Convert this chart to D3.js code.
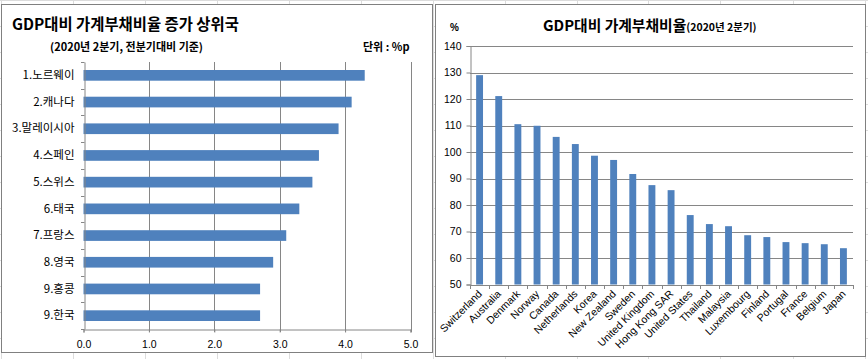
<!DOCTYPE html>
<html><head><meta charset="utf-8">
<script src="https://cdn.jsdelivr.net/npm/d3@7"></script>
<style>
body{margin:0;background:#fff;}
text{font-family:"Liberation Sans","Noto Sans CJK KR",sans-serif;}
.kr{font-family:"Noto Sans CJK KR","Liberation Sans",sans-serif;}
</style></head>
<body>
<svg id="c" width="868" height="359"></svg>
<script>
// Left chart data
const leftCategories = ["1.노르웨이","2.캐나다","3.말레이시아","4.스페인","5.스위스","6.태국","7.프랑스","8.영국","9.홍콩","9.한국"];
const leftValues = [4.3,4.1,3.9,3.6,3.5,3.3,3.1,2.9,2.7,2.7];
const leftTicks = [0,1,2,3,4,5];
// Right chart data
const rightCategories = ["Switzerland","Australia","Denmark","Norway","Canada","Netherlands","Korea","New Zealand","Sweden","United Kingdom","Hong Kong SAR","United States","Thailand","Malaysia","Luxembourg","Finland","Portugal","France","Belgium","Japan"];
const rightValues = [129,121.1,110.5,109.9,105.7,103,98.6,97,91.7,87.5,85.6,76.2,72.8,72,68.6,67.9,66,65.6,65.2,63.7];
const rightTicks = [50,60,70,80,90,100,110,120,130,140];

const barColor = "#4F81BD", gridColor = "#868686", sheetGrid = "#dcdcdc";
const svg = d3.select("#c");

// spreadsheet background grid
const colX = [1,73,145,217,289,361,433,505,577,648,720,793,865];
svg.selectAll(".sg").data(colX).join("line")
  .attr("x1",d=>d+0.5).attr("x2",d=>d+0.5).attr("y1",0).attr("y2",359)
  .attr("stroke",sheetGrid).attr("stroke-width",1);
const rowY = d3.range(0,359,26);
svg.selectAll(".sr").data(rowY).join("line")
  .attr("x1",0).attr("x2",868).attr("y1",d=>d+0.5).attr("y2",d=>d+0.5)
  .attr("stroke",sheetGrid).attr("stroke-width",1);

// panels
svg.append("rect").attr("x",1.5).attr("y",4.5).attr("width",431).attr("height",348)
  .attr("fill","#fff").attr("stroke","#808080");
svg.append("rect").attr("x",435.5).attr("y",4.5).attr("width",430).attr("height",352)
  .attr("fill","#fff").attr("stroke","#808080");

// ---------- LEFT CHART ----------
const L = {x0:83.5, x1:410.5, y0:62, y1:329};
const lx = d3.scaleLinear().domain([0,5]).range([L.x0,L.x1]);
const ly = d3.scaleBand().domain(leftCategories).range([L.y0,L.y1]).paddingInner(0.6).paddingOuter(0.3);
const lg = svg.append("g");
lg.selectAll(".vg").data(leftTicks.filter(d=>d>0)).join("line")
  .attr("x1",d=>Math.round(lx(d))+0.5).attr("x2",d=>Math.round(lx(d))+0.5)
  .attr("y1",L.y0).attr("y2",L.y1+3).attr("stroke",gridColor);
lg.selectAll(".bar").data(leftValues).join("rect")
  .attr("x",lx(0)).attr("y",(d,i)=>ly(leftCategories[i]))
  .attr("width",d=>lx(d)-lx(0)).attr("height",ly.bandwidth())
  .attr("fill",barColor);
const lyAxisScale = d3.scaleBand().domain(leftCategories).range([L.y0,L.y1]);
const lyAxis = lg.append("g").attr("transform",`translate(${Math.round(L.x0)+0.5},0)`)
  .call(d3.axisLeft(lyAxisScale).tickSize(0).tickPadding(10));
lyAxis.select(".domain").attr("stroke",gridColor);
lyAxis.selectAll("text").attr("class","kr").attr("font-size",11.5).attr("fill","#000");
const bounds = d3.range(leftCategories.length+1).map(i=>L.y0+i*(L.y1-L.y0)/leftCategories.length);
lg.selectAll(".bt").data(bounds).join("line")
  .attr("x1",Math.round(L.x0)-3).attr("x2",Math.round(L.x0)+0.5)
  .attr("y1",d=>Math.round(d)+0.5).attr("y2",d=>Math.round(d)+0.5).attr("stroke",gridColor);
const lxAxis = lg.append("g").attr("transform",`translate(0,${L.y1+0.5})`)
  .call(d3.axisBottom(lx).tickValues(leftTicks).tickFormat(d3.format(".1f")).tickSize(3).tickPadding(8));
lxAxis.select(".domain").attr("stroke",gridColor);
lxAxis.selectAll("line").attr("stroke",gridColor);
lxAxis.selectAll("text").attr("font-size",10.5).attr("fill","#000");
svg.append("text").attr("class","kr").attr("x",12).attr("y",30).attr("font-size",15.4).attr("font-weight","bold")
  .text("GDP대비 가계부채비율 증가 상위국");
svg.append("text").attr("class","kr").attr("x",50).attr("y",51).attr("font-size",11).attr("font-weight","bold")
  .text("(2020년 2분기, 전분기대비 기준)");
svg.append("text").attr("class","kr").attr("x",363).attr("y",51).attr("font-size",11).attr("font-weight","bold")
  .text("단위 : %p");

// ---------- RIGHT CHART ----------
const R = {x0:470, x1:853, y0:46, y1:284.5};
const ry = d3.scaleLinear().domain([50,140]).range([R.y1,R.y0]);
const rx = d3.scaleBand().domain(rightCategories).range([R.x0,R.x1]).paddingInner(0.64).paddingOuter(0.32);
const rg = svg.append("g");
rg.selectAll(".hg").data(rightTicks).join("line")
  .attr("x1",R.x0).attr("x2",R.x1)
  .attr("y1",d=>Math.round(ry(d))+0.5).attr("y2",d=>Math.round(ry(d))+0.5)
  .attr("stroke",gridColor);
rg.selectAll(".bar").data(rightValues).join("rect")
  .attr("x",(d,i)=>rx(rightCategories[i])).attr("y",d=>ry(d))
  .attr("width",rx.bandwidth()).attr("height",d=>ry(50)-ry(d))
  .attr("fill",barColor);
const ryAxis = rg.append("g").attr("transform",`translate(${R.x0+0.5},0)`)
  .call(d3.axisLeft(ry).tickValues(rightTicks).tickSize(4).tickPadding(5));
ryAxis.select(".domain").attr("stroke",gridColor);
ryAxis.selectAll("line").attr("stroke",gridColor);
ryAxis.selectAll("text").attr("font-size",10.5).attr("fill","#000");
const rxAxisScale = d3.scaleBand().domain(rightCategories).range([R.x0,R.x1]);
rg.append("line").attr("x1",R.x0).attr("x2",R.x1).attr("y1",Math.round(R.y1)+0.5).attr("y2",Math.round(R.y1)+0.5).attr("stroke",gridColor);
const rb = d3.range(rightCategories.length+1).map(i=>R.x0+i*rxAxisScale.step());
rg.selectAll(".xt").data(rb).join("line")
  .attr("x1",d=>Math.round(d)+0.5).attr("x2",d=>Math.round(d)+0.5)
  .attr("y1",Math.round(R.y1)).attr("y2",Math.round(R.y1)+4).attr("stroke",gridColor);
rg.selectAll(".xl").data(rightCategories).join("text")
  .attr("transform",d=>`translate(${rxAxisScale(d)+rxAxisScale.bandwidth()/2+3},${R.y1+10}) rotate(-45)`)
  .attr("text-anchor","end").attr("font-size",10.5).attr("fill","#000").text(d=>d);
svg.append("text").attr("x",450).attr("y",31).attr("font-size",10).attr("font-weight","bold").text("%");
const rt = svg.append("text").attr("class","kr").attr("x",543).attr("y",31).attr("font-weight","bold");
rt.append("tspan").attr("font-size",14.8).text("GDP대비 가계부채비율");
rt.append("tspan").attr("font-size",10.5).text("(2020년 2분기)");
</script>
</body></html>
